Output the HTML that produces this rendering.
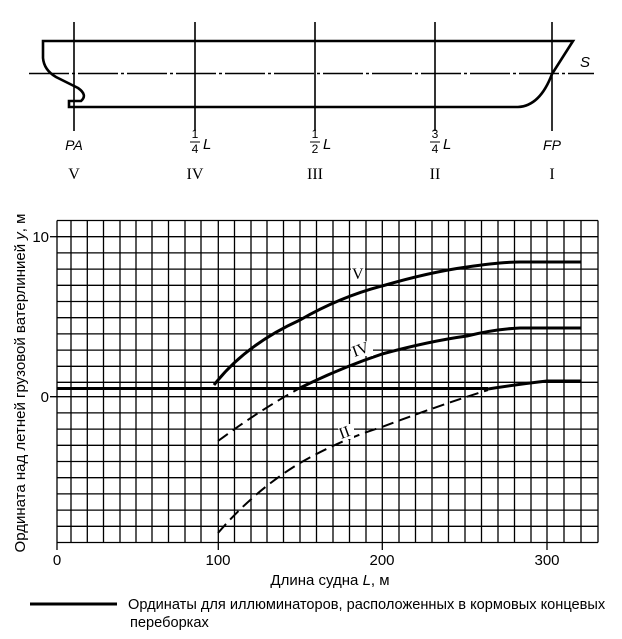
<!DOCTYPE html>
<html><head><meta charset="utf-8"><style>
body{margin:0;background:#fff}
svg{display:block;font-family:"Liberation Sans",sans-serif}
.rm{font-family:"Liberation Serif",serif;font-size:16px}
</style></head><body>
<svg width="622" height="639" viewBox="0 0 622 639" xmlns="http://www.w3.org/2000/svg">
<g stroke="#000" fill="none">
<g stroke-width="1.6">
<line x1="74" y1="22" x2="74" y2="131"/>
<line x1="195" y1="22" x2="195" y2="131"/>
<line x1="315" y1="22" x2="315" y2="131"/>
<line x1="435" y1="22" x2="435" y2="131"/>
<line x1="552" y1="22" x2="552" y2="131"/>
<line x1="29" y1="73.5" x2="594" y2="73.5" stroke-dasharray="40 3 3 3"/>
</g>
<g stroke-width="2.6">
<path d="M84,107 L518,107 Q540,106 552,74 L573,41 L43,41 L43,58 Q44,70 56,77 Q66,82 78,88 Q88,95 81,101 L75,101 L69,101 L69,107 L84,107"/>
</g>
<g stroke-width="1.3">
<line x1="57" y1="220.5" x2="598" y2="220.5"/>
<line x1="57" y1="236.7" x2="598" y2="236.7"/>
<line x1="57" y1="252.9" x2="598" y2="252.9"/>
<line x1="57" y1="269.1" x2="598" y2="269.1"/>
<line x1="57" y1="285.3" x2="598" y2="285.3"/>
<line x1="57" y1="301.5" x2="598" y2="301.5"/>
<line x1="57" y1="317.7" x2="598" y2="317.7"/>
<line x1="57" y1="333.9" x2="598" y2="333.9"/>
<line x1="57" y1="350.1" x2="598" y2="350.1"/>
<line x1="57" y1="366.3" x2="598" y2="366.3"/>
<line x1="57" y1="382.3" x2="598" y2="382.3"/>
<line x1="50" y1="396.7" x2="598" y2="396.7"/>
<line x1="57" y1="412.9" x2="598" y2="412.9"/>
<line x1="57" y1="429.1" x2="598" y2="429.1"/>
<line x1="57" y1="445.3" x2="598" y2="445.3"/>
<line x1="57" y1="461.5" x2="598" y2="461.5"/>
<line x1="57" y1="477.7" x2="598" y2="477.7"/>
<line x1="57" y1="493.9" x2="598" y2="493.9"/>
<line x1="57" y1="510.1" x2="598" y2="510.1"/>
<line x1="57" y1="526.3" x2="598" y2="526.3"/>
<line x1="57" y1="542.5" x2="598" y2="542.5"/>
<line x1="50" y1="236.7" x2="57" y2="236.7"/>
</g>
<g stroke-width="1.3">
<line x1="57" y1="220.5" x2="57" y2="550"/>
<line x1="71" y1="220.5" x2="71" y2="542.5"/>
<line x1="87.3" y1="220.5" x2="87.3" y2="542.5"/>
<line x1="103.5" y1="220.5" x2="103.5" y2="542.5"/>
<line x1="120" y1="220.5" x2="120" y2="542.5"/>
<line x1="136" y1="220.5" x2="136" y2="542.5"/>
<line x1="152" y1="220.5" x2="152" y2="542.5"/>
<line x1="168.5" y1="220.5" x2="168.5" y2="542.5"/>
<line x1="185" y1="220.5" x2="185" y2="542.5"/>
<line x1="201" y1="220.5" x2="201" y2="542.5"/>
<line x1="218.3" y1="220.5" x2="218.3" y2="550"/>
<line x1="234.5" y1="220.5" x2="234.5" y2="542.5"/>
<line x1="251" y1="220.5" x2="251" y2="542.5"/>
<line x1="267" y1="220.5" x2="267" y2="542.5"/>
<line x1="283.5" y1="220.5" x2="283.5" y2="542.5"/>
<line x1="300" y1="220.5" x2="300" y2="542.5"/>
<line x1="316.5" y1="220.5" x2="316.5" y2="542.5"/>
<line x1="333" y1="220.5" x2="333" y2="542.5"/>
<line x1="349.5" y1="220.5" x2="349.5" y2="542.5"/>
<line x1="366" y1="220.5" x2="366" y2="542.5"/>
<line x1="382.3" y1="220.5" x2="382.3" y2="550"/>
<line x1="399" y1="220.5" x2="399" y2="542.5"/>
<line x1="415.5" y1="220.5" x2="415.5" y2="542.5"/>
<line x1="432" y1="220.5" x2="432" y2="542.5"/>
<line x1="448.5" y1="220.5" x2="448.5" y2="542.5"/>
<line x1="465" y1="220.5" x2="465" y2="542.5"/>
<line x1="481.5" y1="220.5" x2="481.5" y2="542.5"/>
<line x1="498" y1="220.5" x2="498" y2="542.5"/>
<line x1="514.5" y1="220.5" x2="514.5" y2="542.5"/>
<line x1="531" y1="220.5" x2="531" y2="542.5"/>
<line x1="547" y1="220.5" x2="547" y2="550"/>
<line x1="564" y1="220.5" x2="564" y2="542.5"/>
<line x1="581" y1="220.5" x2="581" y2="542.5"/>
<line x1="598" y1="220.5" x2="598" y2="542.5"/>
</g>
<line x1="57" y1="388.5" x2="488" y2="388.5" stroke-width="3"/>
<g stroke-width="3">
<path d="M214,385 Q245,345 300,320 Q340,297 382,286 Q430,272 467,267 Q500,262 520,262 L581,262"/>
<path d="M300,388 Q340,368 382,354 Q430,341 467,336 Q495,329 520,328 L581,328"/>
<path d="M488,389 Q520,384 547,381 L581,381"/>
</g>
<g stroke-width="2" stroke-dasharray="12 6">
<path d="M218,441 Q260,410 300,388"/>
<path d="M218,533 Q255,490 300,463 Q340,440 382,427 Q440,405 488,390"/>
</g>
<line x1="30" y1="604" x2="117" y2="604" stroke-width="3"/>
</g>
<g fill="#fff">
<rect x="351" y="266" width="14" height="14"/>
<rect x="351" y="341" width="22" height="15"/>
<rect x="338" y="424" width="16" height="15"/>
</g>
<g font-size="14" fill="#000">
<text x="580" y="67" font-style="italic" font-size="15">S</text>
<text x="74" y="150" font-style="italic" text-anchor="middle">PA</text>
<text x="552" y="150" font-style="italic" text-anchor="middle">FP</text>
<g font-size="12"><text x="195" y="138" text-anchor="middle">1</text><text x="195" y="153" text-anchor="middle">4</text>
<text x="315" y="138" text-anchor="middle">1</text><text x="315" y="153" text-anchor="middle">2</text>
<text x="435" y="138" text-anchor="middle">3</text><text x="435" y="153" text-anchor="middle">4</text></g>
<g stroke="#000" stroke-width="1"><line x1="190" y1="142" x2="200" y2="142"/><line x1="310" y1="142" x2="320" y2="142"/><line x1="430" y1="142" x2="440" y2="142"/></g>
<text x="203" y="149" font-style="italic" font-size="15">L</text>
<text x="323" y="149" font-style="italic" font-size="15">L</text>
<text x="443" y="149" font-style="italic" font-size="15">L</text>
<text class="rm" x="74" y="179" text-anchor="middle">V</text>
<text class="rm" x="195" y="179" text-anchor="middle">IV</text>
<text class="rm" x="315" y="179" text-anchor="middle">III</text>
<text class="rm" x="435" y="179" text-anchor="middle">II</text>
<text class="rm" x="552" y="179" text-anchor="middle">I</text>
<text class="rm" x="352" y="279">V</text>
<text class="rm" x="352" y="354" transform="rotate(-20 362 349)">IV</text>
<text class="rm" x="339" y="437" transform="rotate(-20 346 432)">II</text>
<text x="49" y="242" text-anchor="end" font-size="15">10</text>
<text x="49" y="402" text-anchor="end" font-size="15">0</text>
<text x="57" y="565" text-anchor="middle" font-size="15">0</text>
<text x="218" y="565" text-anchor="middle" font-size="15">100</text>
<text x="382" y="565" text-anchor="middle" font-size="15">200</text>
<text x="547" y="565" text-anchor="middle" font-size="15">300</text>
<text x="330" y="585" text-anchor="middle" font-size="15">Длина судна <tspan font-style="italic">L</tspan>, м</text>
<text transform="translate(25,383) rotate(-90)" text-anchor="middle" font-size="15">Ордината над летней грузовой ватерлинией <tspan font-style="italic">y</tspan>, м</text>
<text x="128" y="609" font-size="14.6">Ординаты для иллюминаторов, расположенных в кормовых концевых</text>
<text x="130" y="627" font-size="14.6">переборках</text>
</g>
</svg>
</body></html>
